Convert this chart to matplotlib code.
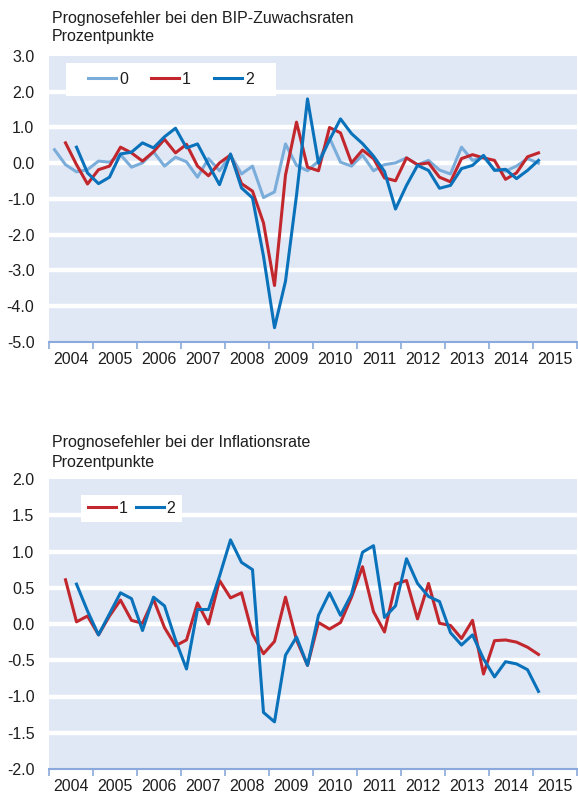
import numpy as np
import matplotlib
matplotlib.use("Agg")
import matplotlib.pyplot as plt
from matplotlib.patches import Rectangle

plt.rcParams['font.family'] = ['Liberation Sans', 'DejaVu Sans']

# Quarter index 0 = 2004 Q1 ... 44 = 2015 Q1
n_q = 45
quarters = [2004 + (k + 0.5) / 4 for k in range(n_q)]
years = list(range(2004, 2016))

nan = np.nan
# --- GDP growth forecast errors (percentage points) ---
gdp_h0 = [0.38, -0.04, -0.24, -0.18, 0.06, 0.03, 0.24, -0.11, 0.01, 0.32,
          -0.08, 0.17, 0.04, -0.39, 0.13, -0.21, 0.23, -0.30, -0.08, -0.96,
          -0.80, 0.54, -0.06, -0.21, 0.06, 0.71, 0.03, -0.08, 0.23, -0.21,
          -0.04, 0.01, 0.15, -0.04, 0.08, -0.19, -0.30, 0.45, 0.08, 0.17,
          -0.18, -0.22, -0.08, 0.13, 0.00]
gdp_h1 = [nan, 0.57, -0.04, -0.58, -0.18, -0.08, 0.45, 0.29, 0.06, 0.32,
          0.67, 0.29, 0.53, -0.08, -0.35, 0.01, 0.23, -0.57, -0.78, -1.67,
          -3.42, -0.33, 1.15, -0.11, -0.21, 1.00, 0.85, 0.01, 0.37, 0.13,
          -0.41, -0.49, 0.15, -0.04, 0.01, -0.39, -0.52, 0.13, 0.24, 0.15,
          0.08, -0.45, -0.27, 0.18, 0.29]
gdp_h2 = [nan, nan, 0.45, -0.27, -0.57, -0.39, 0.26, 0.31, 0.57, 0.43,
          0.74, 0.98, 0.43, 0.54, -0.04, -0.60, 0.26, -0.69, -0.97, -2.60,
          -4.60, -3.30, -0.90, 1.80, 0.00, 0.65, 1.24, 0.83, 0.55, 0.20,
          -0.23, -1.28, -0.62, -0.06, -0.20, -0.70, -0.62, -0.15, -0.06, 0.22,
          -0.20, -0.17, -0.43, -0.20, 0.08]

# --- Inflation forecast errors (percentage points) ---
inf_h1 = [nan, 0.61, 0.03, 0.11, -0.15, 0.11, 0.33, 0.05, 0.01, 0.34,
          -0.05, -0.30, -0.22, 0.29, 0.00, 0.60, 0.36, 0.43, -0.14, -0.41,
          -0.24, 0.37, -0.22, -0.57, 0.02, -0.07, 0.02, 0.37, 0.79, 0.17,
          -0.11, 0.55, 0.60, 0.07, 0.56, 0.01, -0.02, -0.20, 0.05, -0.69,
          -0.23, -0.22, -0.25, -0.32, -0.42]
inf_h2 = [nan, nan, 0.55, 0.18, -0.15, 0.14, 0.43, 0.35, -0.09, 0.37,
          0.25, -0.22, -0.62, 0.20, 0.20, 0.66, 1.16, 0.85, 0.75, -1.22,
          -1.35, -0.43, -0.18, -0.57, 0.12, 0.43, 0.12, 0.41, 0.99, 1.08,
          0.09, 0.25, 0.90, 0.56, 0.38, 0.31, -0.12, -0.29, -0.15, -0.48,
          -0.73, -0.52, -0.55, -0.63, -0.93]

c0 = '#7BADDB'
c1 = '#C1272D'
c2 = '#0A72BA'
bg = '#E1E8F5'
spine_c = '#8AA9DC'
txt_c = '#1E1E1E'
fs = 11.5

W, H = 578, 796
fig = plt.figure(figsize=(W / 100, H / 100), dpi=100)


def style_axes(ax, ylim, yticks, fmt):
    ax.set_facecolor(bg)
    ax.set_xlim(2004, 2016)
    ax.set_ylim(*ylim)
    ax.set_yticks(yticks)
    ax.set_yticklabels([fmt(v) for v in yticks], fontsize=fs, color=txt_c)
    for y in yticks[1:-1]:
        ax.axhline(y, color='white', lw=3.2, zorder=1)
    ax.tick_params(axis='y', length=0, pad=10.5)
    ax.set_xticks(years + [2016])
    ax.set_xticklabels([])
    ax.set_xticks([y + 0.5 for y in years], minor=True)
    ax.set_xticklabels([str(y) for y in years], minor=True, fontsize=fs, color=txt_c)
    ax.tick_params(axis='x', which='major', length=5, width=1.2, color=spine_c, direction='out')
    ax.tick_params(axis='x', which='minor', length=0, pad=7)
    for s in ['top', 'right', 'left']:
        ax.spines[s].set_visible(False)
    ax.spines['bottom'].set_color(spine_c)
    ax.spines['bottom'].set_linewidth(1.5)


# ---------------- Top chart ----------------
ax1 = fig.add_axes([49 / W, 1 - 342 / H, 528 / W, 286 / H])
yt1 = [-5.0, -4.0, -3.0, -2.0, -1.0, 0.0, 1.0, 2.0, 3.0]
style_axes(ax1, (-5.0, 3.0), yt1, lambda v: f'{v:.1f}')
l0, = ax1.plot(quarters, gdp_h0, color=c0, lw=2.2, zorder=3, label='0')
l1, = ax1.plot(quarters, gdp_h1, color=c1, lw=2.2, zorder=4, label='1')
l2, = ax1.plot(quarters, gdp_h2, color=c2, lw=2.2, zorder=5, label='2')

x0, x1 = (66 - 49) / 528, (276 - 49) / 528
y0, y1 = 1 - (96 - 56) / 286, 1 - (63 - 56) / 286
ax1.add_patch(Rectangle((x0, y0), x1 - x0, y1 - y0, transform=ax1.transAxes,
                        facecolor='white', edgecolor='none', zorder=6))
leg1 = ax1.legend(handles=[l0, l1, l2], loc='center',
                  bbox_to_anchor=((x0 + x1) / 2, (y0 + y1) / 2), ncol=3,
                  frameon=False, fontsize=fs, handlelength=1.75,
                  handletextpad=0.2, columnspacing=1.45)
leg1.set_zorder(7)
for t in leg1.get_texts():
    t.set_color(txt_c)

fig.text(52 / W, 1 - 18 / H, 'Prognosefehler bei den BIP-Zuwachsraten', fontsize=fs,
         color=txt_c, va='center', ha='left')
fig.text(52 / W, 1 - 37 / H, 'Prozentpunkte', fontsize=fs,
         color=txt_c, va='center', ha='left')

# ---------------- Bottom chart ----------------
ax2 = fig.add_axes([49 / W, 1 - 769 / H, 528 / W, 290 / H])
yt2 = [-2.0, -1.5, -1.0, -0.5, 0.0, 0.5, 1.0, 1.5, 2.0]
style_axes(ax2, (-2.0, 2.0), yt2, lambda v: f'{v:.1f}')
m1, = ax2.plot(quarters, inf_h1, color=c1, lw=2.2, zorder=4, label='1')
m2, = ax2.plot(quarters, inf_h2, color=c2, lw=2.2, zorder=5, label='2')

bx0, bx1 = (81 - 49) / 528, (182 - 49) / 528
by0, by1 = 1 - (522 - 479) / 290, 1 - (495 - 479) / 290
ax2.add_patch(Rectangle((bx0, by0), bx1 - bx0, by1 - by0, transform=ax2.transAxes,
                        facecolor='white', edgecolor='none', zorder=6))
leg2 = ax2.legend(handles=[m1, m2], loc='center',
                  bbox_to_anchor=((bx0 + bx1) / 2, (by0 + by1) / 2), ncol=2,
                  frameon=False, fontsize=fs, handlelength=1.75,
                  handletextpad=0.2, columnspacing=0.5)
leg2.set_zorder(7)
for t in leg2.get_texts():
    t.set_color(txt_c)

fig.text(52 / W, 1 - 443 / H, 'Prognosefehler bei der Inflationsrate', fontsize=fs,
         color=txt_c, va='center', ha='left')
fig.text(52 / W, 1 - 462 / H, 'Prozentpunkte', fontsize=fs,
         color=txt_c, va='center', ha='left')

fig.savefig('out.png', dpi=100, facecolor='white')
